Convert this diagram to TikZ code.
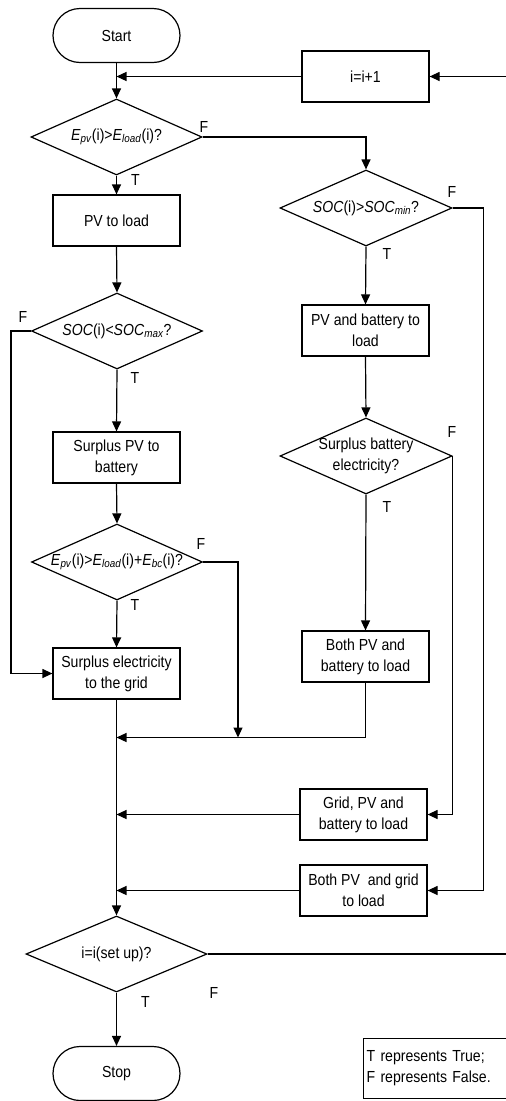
\documentclass[tikz,border=0pt]{standalone}
\usepackage{fontspec}
\setmainfont{Liberation Sans}[FakeStretch=0.88]
\usetikzlibrary{shapes.geometric,arrows.meta}
\newcommand{\lo}[1]{\textsubscript{\textit{#1}}}

\begin{document}
\begin{tikzpicture}[
        x=1pt, y=-1pt,
        font=\fontsize{16}{21}\selectfont,
        terminal/.style={draw, line width=1.2pt, rounded corners=27pt, minimum width=127pt, minimum height=54pt, inner sep=0pt},
        process/.style={draw, line width=1.2pt, minimum width=127pt, minimum height=51pt, inner sep=0pt, align=center},
        decision/.style={draw, line width=1.2pt, diamond, aspect=2.25, minimum width=171pt, minimum height=76pt, inner sep=0pt, align=center},
        tf/.style={inner sep=0pt},
        legendbox/.style={draw, line width=1.2pt, align=left, text width=150pt, minimum height=60pt, inner xsep=3pt},
        arrow/.style={line width=1.2pt, -{Triangle[length=10pt,width=9pt]}},
        line/.style={line width=1.2pt}
    ]

    \useasboundingbox (0,0) rectangle (506,1101);
    \clip (0,0) rectangle (506,1101);

    % --- Left column ---
    \node[terminal] (start) at (116.5,35.5) {Start};
    \node[decision] (d1) at (116.5,137) {\textit{E}\lo{pv}(i)>\textit{E}\lo{load}(i)?};
    \node[process] (b1) at (116.5,220.5) {PV to load};
    \node[decision] (d3) at (117,331) {\textit{SOC}(i)<\textit{SOC}\lo{max}?};
    \node[process] (b2) at (116.5,457.5) {Surplus PV to\\battery};
    \node[decision] (d5) at (117,562) {\textit{E}\lo{pv}(i)>\textit{E}\lo{load}(i)+\textit{E}\lo{bc}(i)?};
    \node[process] (b3) at (116.5,673.5) {Surplus electricity\\to the grid};
    \node[decision, minimum width=181pt] (d6) at (116.5,954) {i=i(set up)?};
    \node[terminal] (stop) at (116.5,1073.5) {Stop};

    % --- Right column ---
    \node[process] (inc) at (365.5,76.5) {i=i+1};
    \node[decision, minimum width=172pt] (d2) at (366,208) {\textit{SOC}(i)>\textit{SOC}\lo{min}?};
    \node[process] (b4) at (365.5,330.5) {PV and battery to\\load};
    \node[decision, minimum width=172pt, inner sep=-2pt] (d4) at (366,456) {Surplus battery\\electricity?};
    \node[process] (b5) at (365.5,656.5) {Both PV and\\battery to load};
    \node[process] (b6) at (363.5,814.5) {Grid, PV and\\battery to load};
    \node[process] (b7) at (363.5,890.5) {Both PV\ \ and grid\\to load};

    % --- T / F labels ---
    \node[tf] (f1) at (204,127) {F};
    \node[tf] (t1) at (135.5,180) {T};
    \node[tf] (f2) at (452,192) {F};
    \node[tf] (t2) at (387,254) {T};
    \node[tf] (f3) at (23,317) {F};
    \node[tf] (t3) at (135,378) {T};
    \node[tf] (f4) at (452,432) {F};
    \node[tf] (t4) at (387,507) {T};
    \node[tf] (f5) at (201,544) {F};
    \node[tf] (t5) at (135,605) {T};
    \node[tf] (f6) at (214,993) {F};
    \node[tf] (t6) at (145.5,1002) {T};

    % --- Legend ---
    \node[legendbox, anchor=north west] (legend) at (363,1038) {T represents True;\\F represents False.};

    % --- Merge points ---
    \coordinate (m0) at (116.5,76.5);
    \coordinate (m1) at (238,737.5);
    \coordinate (m2) at (116.5,737.5);
    \coordinate (m3) at (116.5,814.5);
    \coordinate (m4) at (116.5,890.5);
    \coordinate (loopin) at (506,76.5);
    \coordinate (loopout) at (506,954);

    % --- Connectors ---
    \draw[arrow] (start.south) -- (d1.north);
    \draw[arrow] (inc.west) -- (m0);
    \draw[arrow] (loopin) -- (inc.east);
    \draw[arrow] (d1.east) -| (d2.north);
    \draw[arrow] (d1.south) -- (b1.north);
    \draw[arrow] (b1.south) -- (d3.north);
    \draw[arrow] (d3.south) -- (b2.north);
    \draw[arrow] (d3.west) -- ++(-20,0) |- (b3.west);
    \draw[arrow] (b2.south) -- (d5.north);
    \draw[arrow] (d5.south) -- (b3.north);
    \draw[arrow] (d5.east) -| (m1);
    \draw[arrow] (b5.south) |- (m2);
    \draw[arrow] (b3.south) -- (d6.north);
    \draw[arrow] (b6.west) -- (m3);
    \draw[arrow] (b7.west) -- (m4);
    \draw[arrow] (d2.south) -- (b4.north);
    \draw[arrow] (d2.east) -- ++(31,0) |- (b7.east);
    \draw[arrow] (b4.south) -- (d4.north);
    \draw[arrow] (d4.south) -- (b5.north);
    \draw[arrow] (d4.east) |- (b6.east);
    \draw[line] (d6.east) -- (loopout);
    \draw[arrow] (d6.south) -- (stop.north);

\end{tikzpicture}
\end{document}
